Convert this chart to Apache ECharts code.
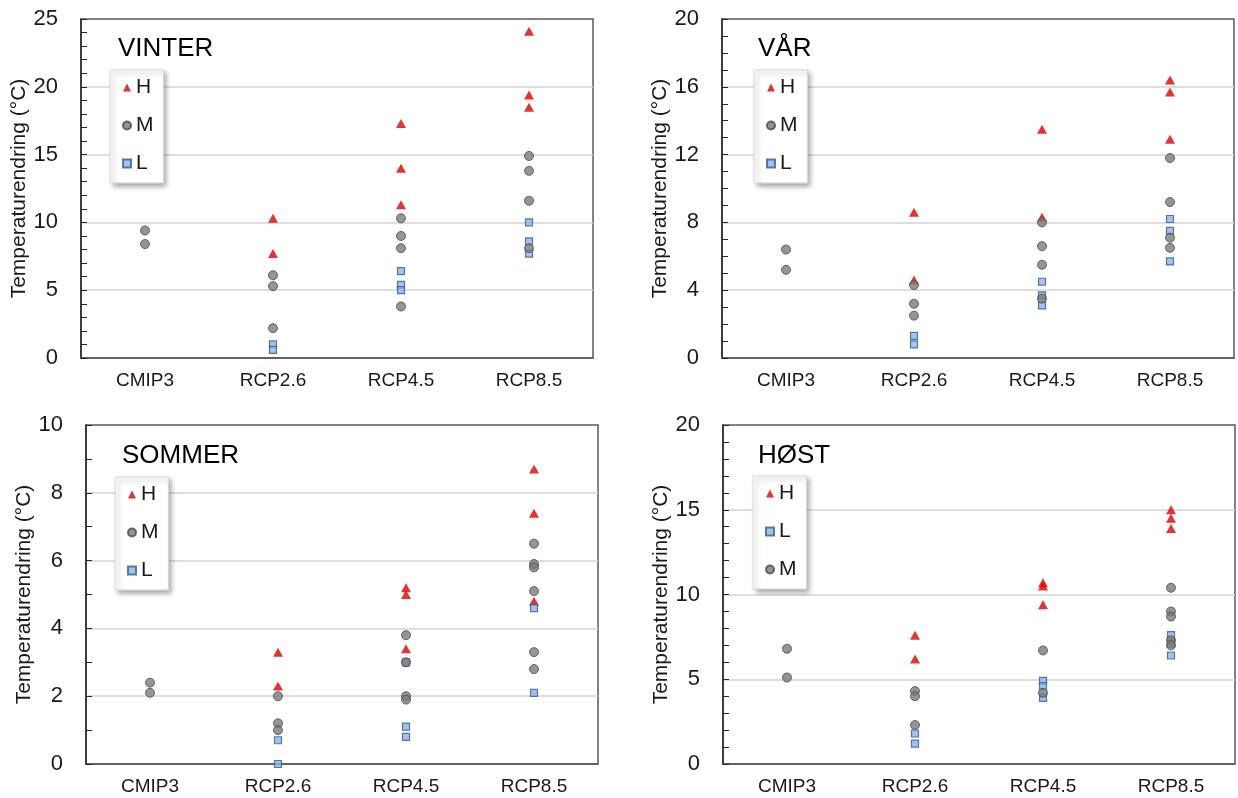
<!DOCTYPE html>
<html>
<head>
<meta charset="utf-8">
<script src="https://cdn.jsdelivr.net/npm/echarts@6/dist/echarts.min.js"></script>
<style>
  html, body { margin: 0; padding: 0; background: #fff; }
  #chart { width: 1238px; height: 798px; }
</style>
</head>
<body>
<div id="chart"></div>
<script>
var categories = ['CMIP3', 'RCP2.6', 'RCP4.5', 'RCP8.5'];
var seasons = ['VINTER', 'VÅR', 'SOMMER', 'HØST'];
var yAxisName = 'Temperaturendring (°C)';

// VINTER
var vinterH = [['RCP2.6', 10.3], ['RCP2.6', 7.7], ['RCP4.5', 17.3], ['RCP4.5', 14.0], ['RCP4.5', 11.3],
    ['RCP8.5', 24.1], ['RCP8.5', 19.4], ['RCP8.5', 18.5]];
var vinterM = [['CMIP3', 9.4], ['CMIP3', 8.4], ['RCP2.6', 6.1], ['RCP2.6', 5.3], ['RCP2.6', 2.2],
    ['RCP4.5', 10.3], ['RCP4.5', 9.0], ['RCP4.5', 8.1], ['RCP4.5', 3.8],
    ['RCP8.5', 14.9], ['RCP8.5', 13.8], ['RCP8.5', 11.6], ['RCP8.5', 8.1]];
var vinterL = [['RCP2.6', 1.0], ['RCP2.6', 0.6], ['RCP4.5', 6.4], ['RCP4.5', 5.4], ['RCP4.5', 5.0],
    ['RCP8.5', 10.0], ['RCP8.5', 8.6], ['RCP8.5', 7.7]];

// VÅR
var varH = [['RCP2.6', 8.6], ['RCP2.6', 4.6], ['RCP4.5', 13.5], ['RCP4.5', 8.3],
    ['RCP8.5', 16.4], ['RCP8.5', 15.7], ['RCP8.5', 12.9]];
var varM = [['CMIP3', 6.4], ['CMIP3', 5.2], ['RCP2.6', 4.3], ['RCP2.6', 3.2], ['RCP2.6', 2.5],
    ['RCP4.5', 8.0], ['RCP4.5', 6.6], ['RCP4.5', 5.5], ['RCP4.5', 3.5],
    ['RCP8.5', 11.8], ['RCP8.5', 9.2], ['RCP8.5', 7.1], ['RCP8.5', 6.5]];
var varL = [['RCP2.6', 1.3], ['RCP2.6', 0.8], ['RCP4.5', 4.5], ['RCP4.5', 3.7], ['RCP4.5', 3.1],
    ['RCP8.5', 8.2], ['RCP8.5', 7.5], ['RCP8.5', 5.7]];

// SOMMER
var sommerH = [['RCP2.6', 3.3], ['RCP2.6', 2.3], ['RCP4.5', 5.2], ['RCP4.5', 5.0], ['RCP4.5', 3.4],
    ['RCP8.5', 8.7], ['RCP8.5', 7.4], ['RCP8.5', 4.8]];
var sommerM = [['CMIP3', 2.4], ['CMIP3', 2.1], ['RCP2.6', 2.0], ['RCP2.6', 1.2], ['RCP2.6', 1.0],
    ['RCP4.5', 3.8], ['RCP4.5', 3.0], ['RCP4.5', 2.0], ['RCP4.5', 1.9],
    ['RCP8.5', 6.5], ['RCP8.5', 5.9], ['RCP8.5', 5.8], ['RCP8.5', 5.1], ['RCP8.5', 3.3], ['RCP8.5', 2.8]];
var sommerL = [['RCP2.6', 0.7], ['RCP2.6', 0.0], ['RCP4.5', 3.0], ['RCP4.5', 1.1], ['RCP4.5', 0.8],
    ['RCP8.5', 4.6], ['RCP8.5', 2.1]];

// HØST
var hostH = [['RCP2.6', 7.6], ['RCP2.6', 6.2], ['RCP4.5', 10.7], ['RCP4.5', 10.5], ['RCP4.5', 9.4],
    ['RCP8.5', 15.0], ['RCP8.5', 14.5], ['RCP8.5', 13.9]];
var hostM = [['CMIP3', 6.8], ['CMIP3', 5.1], ['RCP2.6', 4.3], ['RCP2.6', 4.0], ['RCP2.6', 2.3],
    ['RCP4.5', 6.7], ['RCP4.5', 4.2],
    ['RCP8.5', 10.4], ['RCP8.5', 9.0], ['RCP8.5', 8.7], ['RCP8.5', 7.3], ['RCP8.5', 7.0]];
var hostL = [['RCP2.6', 1.8], ['RCP2.6', 1.2], ['RCP4.5', 4.9], ['RCP4.5', 4.6], ['RCP4.5', 3.9],
    ['RCP8.5', 7.6], ['RCP8.5', 7.1], ['RCP8.5', 6.4]];

var yMax = [25, 20, 10, 20];
var yInterval = [5, 4, 2, 5];
var legendOrder = [['H', 'M', 'L'], ['H', 'M', 'L'], ['H', 'M', 'L'], ['H', 'L', 'M']];

(function (window, document) {
    'use strict';
    var myChart = echarts.init(document.getElementById('chart'));
    var font = 'Liberation Sans, Arial, sans-serif';
    var textColor = '#1a1a1a';

    var seriesData = [
        { H: vinterH, M: vinterM, L: vinterL },
        { H: varH, M: varM, L: varL },
        { H: sommerH, M: sommerM, L: sommerL },
        { H: hostH, M: hostM, L: hostL }
    ];

    // plot areas (px)
    var boxes = [
        { left: 81, top: 19 },
        { left: 722, top: 19 },
        { left: 86, top: 425 },
        { left: 723, top: 425 }
    ];
    var titlePos = [[118, 36], [758, 36], [122, 443], [758, 443]];
    var legendPos = [[110, 70], [754, 70], [115, 477], [753, 476]];

    var style = {
        H: { symbol: 'triangle', symbolSize: [10, 9], z: 2,
            itemStyle: { color: '#dd0000' } },
        L: { symbol: 'rect', symbolSize: 7, z: 3,
            itemStyle: { color: '#8eb4e3', borderColor: '#2e5c99', borderWidth: 1.2 } },
        M: { symbol: 'circle', symbolSize: 9, z: 4,
            itemStyle: { color: '#7a7a7a', borderColor: '#4a4a4a', borderWidth: 1 } }
    };

    var grid = [], xAxis = [], yAxis = [], series = [], title = [], legend = [];

    for (var i = 0; i < 4; i++) {
        grid.push({
            left: boxes[i].left, top: boxes[i].top, width: 512, height: 339,
            show: true, borderColor: '#595959', borderWidth: 1.5, backgroundColor: 'transparent'
        });
        xAxis.push({
            type: 'category', gridIndex: i, data: categories,
            axisLine: { lineStyle: { color: '#595959', width: 1.5 } },
            axisTick: { show: false },
            axisLabel: { color: textColor, fontFamily: font, fontSize: 19, margin: 13 },
            splitLine: { show: false }
        });
        yAxis.push({
            type: 'value', gridIndex: i, min: 0, max: yMax[i], interval: yInterval[i],
            name: yAxisName, nameLocation: 'middle', nameGap: 47,
            nameTextStyle: { color: textColor, fontFamily: font, fontSize: 21 },
            axisLine: { show: true, lineStyle: { color: '#262626', width: 1.5 } },
            axisTick: { show: true, inside: true, length: 6, lineStyle: { color: '#262626' } },
            minorTick: { show: true, splitNumber: yInterval[i], length: 6,
                lineStyle: { color: '#262626' } },
            axisLabel: { color: textColor, fontFamily: font, fontSize: 22, margin: 23 },
            splitLine: { show: true, showMinLine: false, showMaxLine: false,
                lineStyle: { color: '#d4d4d4', width: 1.5 } }
        });
        title.push({
            text: seasons[i], left: titlePos[i][0], top: titlePos[i][1], padding: 0,
            textStyle: { color: '#000', fontFamily: font, fontSize: 26, fontWeight: 'normal' }
        });
        legend.push({
            data: legendOrder[i], orient: 'vertical',
            left: legendPos[i][0], top: legendPos[i][1],
            padding: [7, 10, 9, 12], itemGap: 17, itemWidth: 8, itemHeight: 8,
            backgroundColor: '#fff', borderColor: '#d9d9d9', borderWidth: 1,
            shadowColor: 'rgba(0,0,0,0.35)', shadowBlur: 5, shadowOffsetX: 3, shadowOffsetY: 3,
            selectedMode: false,
            textStyle: { color: textColor, fontFamily: font, fontSize: 21, lineHeight: 20 }
        });
        ['H', 'L', 'M'].forEach(function (key) {
            series.push({
                name: key, type: 'scatter', xAxisIndex: i, yAxisIndex: i,
                symbol: style[key].symbol, symbolSize: style[key].symbolSize, z: style[key].z,
                itemStyle: style[key].itemStyle,
                emphasis: { disabled: true },
                data: seriesData[i][key]
            });
        });
    }

    myChart.setOption({
        animation: false,
        textStyle: { fontFamily: font },
        title: title,
        legend: legend,
        grid: grid,
        xAxis: xAxis,
        yAxis: yAxis,
        series: series
    });
})(window, document);
</script>
</body>
</html>
